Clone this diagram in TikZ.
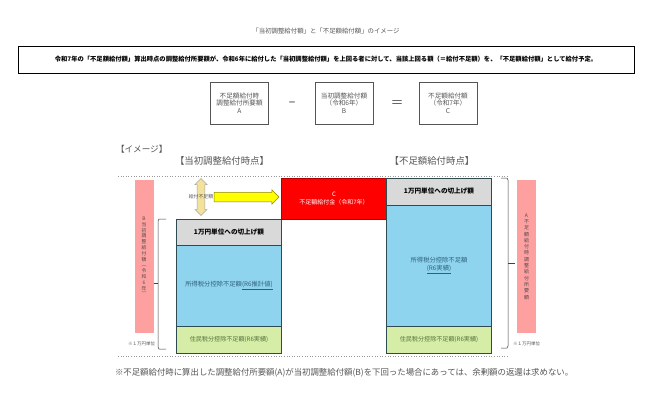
\documentclass[tikz,border=0pt]{standalone}
\usepackage{fontspec}
\setmainfont{Noto Sans CJK JP}
\usetikzlibrary{shapes.arrows}
\newcommand{\fsz}[1]{\fontsize{#1bp}{#1bp}\selectfont}
\newcommand{\fsl}[2]{\fontsize{#1bp}{#2bp}\selectfont}
\definecolor{inkgray}{HTML}{555555}
\definecolor{pinkbar}{HTML}{FFA0A0}
\definecolor{graybar}{HTML}{D9D9D9}
\definecolor{bluebar}{HTML}{8FD4EF}
\definecolor{greenbar}{HTML}{D6EDA8}
\definecolor{bluetext}{HTML}{2F6078}
\definecolor{greentext}{HTML}{55703A}
\definecolor{arrowyellow}{HTML}{FFFF00}
\definecolor{arrowtan}{HTML}{F3E29C}
\definecolor{edgedark}{HTML}{2F4A50}
\tikzset{
  every node/.style={inner sep=0pt,outer sep=0pt},
  plain/.style={text=inkgray,align=center},
  formula/.style={draw=inkgray,line width=.7bp,minimum width=58bp,minimum height=42bp,text=inkgray,align=center,font=\fsl{6.6}{7.6},anchor=north west},
  bar/.style={draw=edgedark,line width=.7bp,anchor=north west,minimum width=105bp,align=center},
  side/.style={fill=pinkbar,anchor=north west,minimum width=19bp,minimum height=153bp,align=center,text=black!70},
  brace/.style={draw=black!75,line width=.5bp},
  dots/.style={draw=gray!80,line width=.6bp,dotted},
}
\begin{document}
\begin{tikzpicture}[x=1bp,y=-1bp]
\useasboundingbox (0,0) rectangle (650,402);
\fill[white] (0,0) rectangle (650,402);
\node[plain,font=\fsz{6.4}] (title) at (326,31) {「当初調整給付額」と「不足額給付額」のイメージ};
\node[draw=black,line width=1bp,anchor=north west,minimum width=616bp,minimum height=27bp,font=\fsz{6.3}\bfseries] (lead) at (18,46) {令和7年の「不足額給付額」算出時点の調整給付所要額が、令和6年に給付した「当初調整給付額」を上回る者に対して、当該上回る額（＝給付不足額）を、「不足額給付額」として給付予定。};
\node[formula] (fa) at (210.5,82) {不足額給付時\\調整給付所要額\\A};
\node[formula] (fb) at (315,82) {当初調整給付額\\（令和6年）\\B};
\node[formula] (fc) at (419,82) {不足額給付額\\（令和7年）\\C};
\node[plain,font=\fsz{8}\bfseries] (minus) at (292,104) {－};
\node[plain,font=\fsz{13}] (equal) at (397,104) {＝};
\node[plain,font=\fsz{8.6},anchor=west] (image) at (116,149.5) {【イメージ】};
\node[plain,font=\fsz{9.4}] (h1) at (222,161) {【当初調整給付時点】};
\node[plain,font=\fsz{9.4}] (h2) at (432,161) {【不足額給付時点】};
\coordinate (d1a) at (118,176.5); \coordinate (d1b) at (508,176.5);
\coordinate (d2a) at (118,356); \coordinate (d2b) at (508,356);
\draw[dots] (d1a) -- (d1b);
\draw[dots] (d2a) -- (d2b);
\node[side,font=\fsl{4.8}{5.8}] (sl) at (134.5,180) {B\\当\\初\\調\\整\\給\\付\\額\\︵\\令\\和\\6\\年\\︶};
\node[side,font=\fsl{5}{6.3}] (sr) at (517,180) {A\\不\\足\\額\\給\\付\\時\\調\\整\\給\\付\\所\\要\\額};
\node[bar,fill=graybar,minimum height=26bp,font=\fsz{6.6}\bfseries] (g1) at (176.5,219) {1万円単位への切上げ額};
\node[bar,fill=bluebar,minimum height=81.5bp,font=\fsz{6.3},text=bluetext] (b1) at (176.5,245) {所得税分控除不足額\underline{(R6推計値)}};
\node[bar,fill=greenbar,minimum height=27bp,font=\fsz{6.1},text=greentext] (n1) at (176.5,326.5) {住民税分控除不足額(R6実績)};
\node[bar,fill=red,draw=red!70!black,minimum height=41bp,font=\fsl{6}{8},text=white] (c) at (281.5,178) {C\\不足額給付金（令和7年）};
\node[bar,fill=graybar,minimum height=27bp,font=\fsz{6.6}\bfseries] (g2) at (386.5,178) {1万円単位への切上げ額};
\node[bar,fill=bluebar,minimum height=121.5bp,font=\fsl{6.3}{8},text=bluetext] (b2) at (386.5,205) {所得税分控除不足額\\\underline{(R6実績)}};
\node[bar,fill=greenbar,minimum height=27bp,font=\fsz{6.1},text=greentext] (n2) at (386.5,326.5) {住民税分控除不足額(R6実績)};
% left bracket
\coordinate (lt) at (166,219); \coordinate (lb) at (166,349); \coordinate (lm) at (153.5,283);
\draw[brace] (lt) -- (159,219) -- (158,221) -- (158,347) -- (159,349) -- (lb);
\draw[brace] (lm) -- (158,283);
% right bracket
\coordinate (rt) at (501,178); \coordinate (rb) at (501,348); \coordinate (rm) at (515,263);
\draw[brace] (rt) -- (507,178) -- (508,180) -- (508,346) -- (507,348) -- (rb);
\draw[brace] (rm) -- (508,263);
\node[plain,font=\fsz{4.5}] (nl) at (141.5,344) {※１万円単位};
\node[plain,font=\fsz{4.5}] (nr) at (526.5,344) {※１万円単位};
\node[shape=double arrow,draw=gray!70,fill=arrowtan,line width=.5bp,minimum height=37bp,minimum width=12bp,inner ysep=3.5bp,double arrow head extend=2bp,rotate=90] (da) at (201,197) {};
\node[plain,font=\fsz{4.9}] (short) at (201,197) {給付不足額};
\node[shape=single arrow,draw=olive,fill=arrowyellow,line width=.5bp,anchor=west,minimum height=65bp,minimum width=14bp,inner ysep=4.5bp,single arrow head extend=2.5bp,single arrow tip angle=90] (ya) at (214,197) {};
\node[plain,font=\fsz{8.4},anchor=west] (foot) at (115,373) {※不足額給付時に算出した調整給付所要額(A)が当初調整給付額(B)を下回った場合にあっては、余剰額の返還は求めない。};
\end{tikzpicture}
\end{document}
